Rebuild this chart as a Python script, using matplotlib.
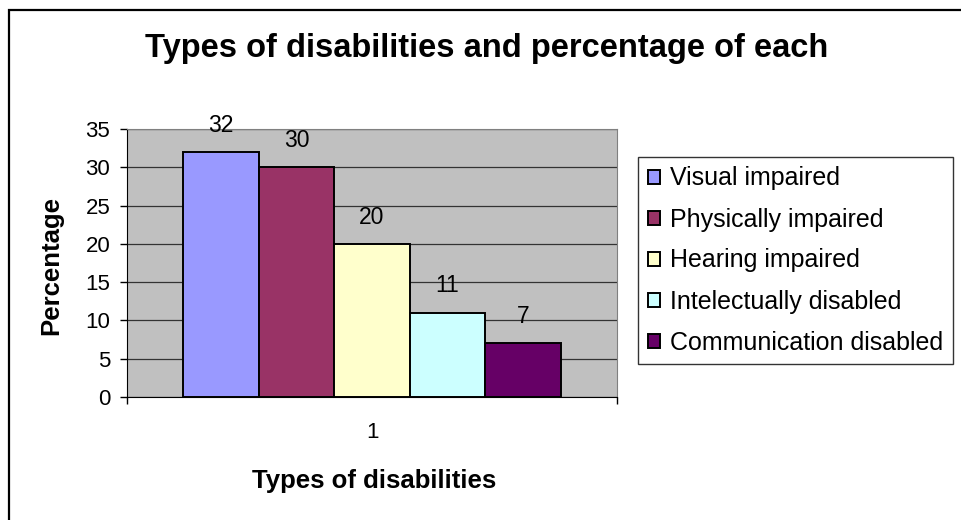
import matplotlib
matplotlib.use("Agg")
import matplotlib.pyplot as plt
from matplotlib.patches import Rectangle

plt.rcParams["font.family"] = ["Liberation Sans", "DejaVu Sans"]

# data (single category "1")
categories = ["Visual impaired", "Physically impaired", "Hearing impaired",
              "Intelectually disabled", "Communication disabled"]
values = [32, 30, 20, 11, 7]
colors = ["#9999FF", "#993366", "#FFFFCC", "#CCFFFF", "#660066"]
group_label = "1"

fig = plt.figure(figsize=(9.61, 5.2), dpi=100)
ax = fig.add_axes([127 / 961, 1 - 397 / 520, 490 / 961, 268 / 520])
ax.set_facecolor("#C0C0C0")

w = 0.1542
n = len(values)
for i, (cat, v, c) in enumerate(zip(categories, values, colors)):
    x = 1 + (i - (n - 1) / 2) * w
    ax.bar(x, v, width=w, color=c, edgecolor="black", linewidth=1.4,
           label=cat, zorder=3)
    ax.annotate(str(v), (x, v), xytext=(0, 11), textcoords="offset points",
                ha="center", va="bottom", fontsize=16.5, annotation_clip=False)

ax.set_xlim(0.5, 1.5)
ax.set_ylim(0, 35)
ax.set_yticks(range(0, 36, 5))
ax.yaxis.grid(True, color="#333333", lw=0.9, zorder=1)
ax.set_axisbelow(True)

ax.set_xticks([1])
ax.set_xticklabels([group_label])
ax.set_xticks([0.5, 1.5], minor=True)
ax.tick_params(axis="x", which="major", length=0, pad=18, labelsize=16)
ax.tick_params(axis="x", which="minor", length=5, width=1, direction="out")
ax.tick_params(axis="y", length=5, width=1, direction="out", pad=7, labelsize=16)

for s in ["top", "right"]:
    ax.spines[s].set_color("#808080")
for s in ["left", "bottom"]:
    ax.spines[s].set_color("black")

ax.set_ylabel("Percentage", fontsize=18.5, fontweight="bold")
ax.yaxis.set_label_coords(-0.131, 0.49)
ax.set_xlabel("Types of disabilities", fontsize=18.5, fontweight="bold")
ax.xaxis.set_label_coords(0.505, -0.27)

fig.text(487 / 961, 1 - 57 / 520, "Types of disabilities and percentage of each",
         ha="center", va="baseline", fontsize=23.5, fontweight="bold")

leg = fig.legend(loc="upper left", bbox_to_anchor=(638 / 961, 1 - 157 / 520),
                 borderaxespad=0, fontsize=18, frameon=True, fancybox=False,
                 handlelength=0.5, handleheight=0.5, handletextpad=0.4,
                 labelspacing=0.68, borderpad=0.38)
leg.get_frame().set_edgecolor("black")
leg.get_frame().set_linewidth(1.0)

# outer chart frame (only top and left visible in the crop)
fig.patches.append(Rectangle((8.5 / 961, -0.1), 1.2, 1.1 - 10 / 520,
                             transform=fig.transFigure, fill=False,
                             edgecolor="black", linewidth=1.6))

fig.savefig("out.png", dpi=100)
